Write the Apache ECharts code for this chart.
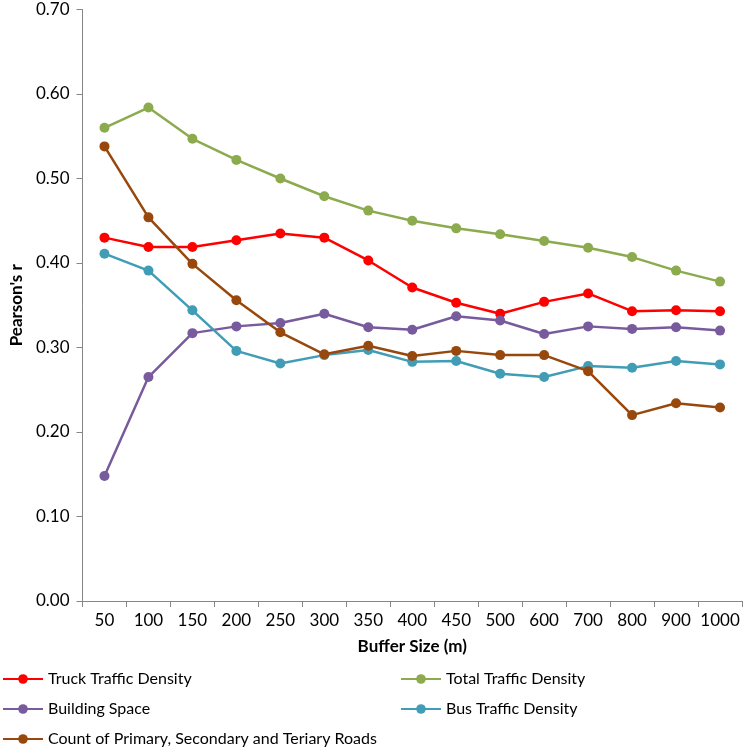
<!DOCTYPE html>
<html>
<head>
<meta charset="utf-8">
<script src="https://cdn.jsdelivr.net/npm/echarts@6/dist/echarts.min.js"></script>
<style>html,body{margin:0;padding:0;background:#fff}#c{width:744px;height:748px}</style>
</head>
<body>
<div id="c"></div>
<script>
var categories = ['50','100','150','200','250','300','350','400','450','500','600','700','800','900','1000'];
var truckTraffic = [0.430,0.419,0.419,0.427,0.435,0.430,0.403,0.371,0.353,0.340,0.354,0.364,0.343,0.344,0.343];
var totalTraffic = [0.560,0.584,0.547,0.522,0.500,0.479,0.462,0.450,0.441,0.434,0.426,0.418,0.407,0.391,0.378];
var buildingSpace = [0.148,0.265,0.317,0.325,0.329,0.340,0.324,0.321,0.337,0.332,0.316,0.325,0.322,0.324,0.320];
var busTraffic = [0.411,0.391,0.344,0.296,0.281,0.291,0.297,0.283,0.284,0.269,0.265,0.278,0.276,0.284,0.280];
var roadCount = [0.538,0.454,0.399,0.356,0.318,0.292,0.302,0.290,0.296,0.291,0.291,0.272,0.220,0.234,0.229];
var seriesNames = ['Truck Traffic Density','Total Traffic Density','Building Space','Bus Traffic Density','Count of Primary, Secondary and Teriary Roads'];

var FONT = 'Lato';
function mk(name, data, color) {
  return {
    name: name, type: 'line', data: data,
    symbol: 'circle', symbolSize: 10,
    lineStyle: {color: color, width: 2.5},
    itemStyle: {color: color},
    animation: false
  };
}
function lg(name, left, top) {
  return {data: [name], left: left, top: top, itemWidth: 40, itemHeight: 12, padding: 0,
    textStyle: {fontFamily: FONT, fontSize: 16, color: '#000'}};
}
var chart = echarts.init(document.getElementById('c'));
chart.setOption({
  backgroundColor: '#fff',
  textStyle: {fontFamily: FONT},
  grid: {left: 78, right: 2, top: 9.5, bottom: 147, containLabel: false},
  legend: [
    lg(seriesNames[0], 2, 671),
    lg(seriesNames[1], 400, 671),
    lg(seriesNames[2], 2, 701),
    lg(seriesNames[3], 400, 701),
    lg(seriesNames[4], 2, 731)
  ],
  xAxis: {
    type: 'category', data: categories, boundaryGap: true,
    name: 'Buffer Size (m)', nameLocation: 'middle', nameGap: 37,
    nameTextStyle: {fontFamily: FONT, fontSize: 17, fontWeight: 'bold', color: '#000'},
    axisLine: {lineStyle: {color: '#868686', width: 1}},
    axisTick: {show: true, length: 6, lineStyle: {color: '#868686'}},
    axisLabel: {fontFamily: FONT, fontSize: 17, color: '#000', margin: 11, interval: 0},
    splitLine: {show: false}
  },
  yAxis: {
    type: 'value', min: 0, max: 0.7, interval: 0.1,
    name: "Pearson's r", nameLocation: 'middle', nameGap: 56, nameRotate: 90,
    nameTextStyle: {fontFamily: FONT, fontSize: 17, fontWeight: 'bold', color: '#000'},
    axisLine: {show: true, lineStyle: {color: '#868686', width: 1}},
    axisTick: {show: true, length: 6, lineStyle: {color: '#868686'}},
    axisLabel: {fontFamily: FONT, fontSize: 17, color: '#000', margin: 13,
      formatter: function(v){ return v.toFixed(2); }},
    splitLine: {show: false}
  },
  series: [
    mk(seriesNames[0], truckTraffic, '#FF0000'),
    mk(seriesNames[1], totalTraffic, '#8CAA4E'),
    mk(seriesNames[2], buildingSpace, '#775B9C'),
    mk(seriesNames[3], busTraffic, '#409DB5'),
    mk(seriesNames[4], roadCount, '#98480C')
  ]
});
</script>
</body>
</html>
